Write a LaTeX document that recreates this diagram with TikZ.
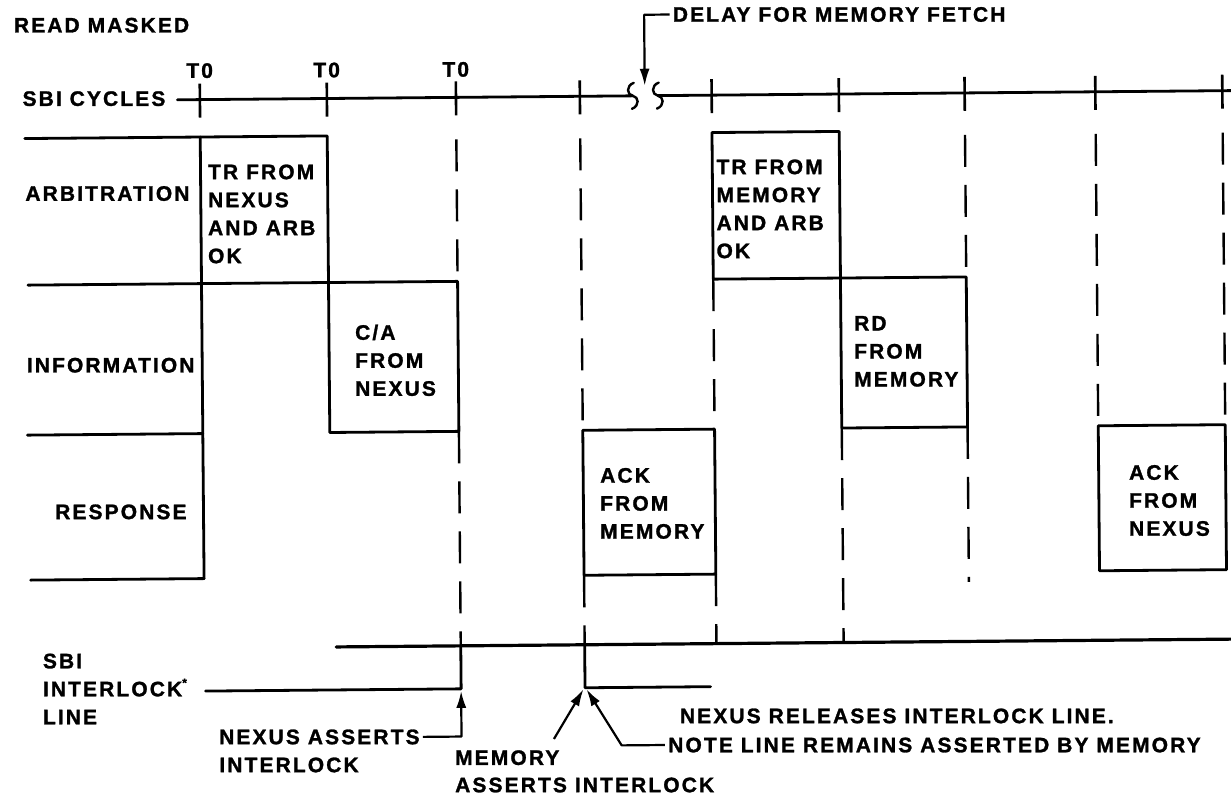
\documentclass[tikz,border=0pt]{standalone}
\usepackage{fontspec}
\setmainfont{Liberation Sans}[LetterSpace=10, BoldFeatures={FakeBold=1.3}]
\usetikzlibrary{arrows.meta}
\def\colA{202.5}
\def\colB{329.5}
\def\colC{458.6}
\def\colD{582.5}
\def\colE{714.3}
\def\colF{841.5}
\def\colG{967.3}
\def\colH{1098}
\def\colI{1225}
\def\rowA{133.4}
\def\rowB{280}
\def\rowC{430}
\def\rowD{575}
\def\ysbi{96}
\def\yil{644.5}
\def\yll{687.5}
\begin{document}
\begin{tikzpicture}[x=1pt,y=-1pt,
  txt/.style={font=\fontsize{21}{28}\selectfont\bfseries, inner sep=0pt, align=left, anchor=west},
  wave/.style={line width=2.8pt, line cap=round, line join=round},
  tickmark/.style={line width=2.6pt},
  dsh/.style={line width=2.4pt, dash pattern=on 32pt off 18pt},
  ilk/.style={line width=3.2pt, line cap=round},
  lead/.style={line width=2.2pt, line join=round},
  arr/.style={lead, -{Latex[length=17pt,width=10pt]}},
  brk/.style={line width=2.4pt, line cap=round}]
\fill[white] (0,0) rectangle (1231,797);
\useasboundingbox (0,0) rectangle (1231,797);
\begin{scope}[rotate around={0.5:(615,398)}]
% ---- headings
\node[txt] (title) at (17,20) {READ MASKED};
\node[txt,anchor=center] (tzA) at (\colA,67) {T0};
\node[txt,anchor=center] (tzB) at (\colB,67.5) {T0};
\node[txt,anchor=center] (tzC) at (\colC,68) {T0};
\node[txt] (sbic) at (25,93.5) {SBI CYCLES};
% ---- SBI cycles line with break
\coordinate (sbiL) at (180,\ysbi);
\coordinate (brkA) at (635.5,\ysbi);
\coordinate (brkB) at (660.5,\ysbi);
\coordinate (sbiR) at (1240,\ysbi);
\draw[wave] (sbiL) -- (brkA);
\draw[wave] (brkB) -- (sbiR);
\foreach \b in {brkA,brkB}
  \draw[brk] ([shift={(1,-13)}]\b) .. controls ([shift={(-7,-10)}]\b) and ([shift={(-6,-1)}]\b) .. (\b)
             .. controls ([shift={(6,1)}]\b) and ([shift={(7,10)}]\b) .. ([shift={(-1,13)}]\b);
\foreach \c in {\colA,\colB,\colC,\colD,\colE,\colF,\colG,\colH,\colI}
  \draw[tickmark] (\c,\ysbi-16) -- (\c,\ysbi+18);
% ---- delay annotation
\node[txt] (delay) at (676,15) {DELAY FOR MEMORY FETCH};
\coordinate (delaytip) at (647.5,86);
\draw[arr] ([xshift=-3pt]delay.west) -| (delaytip);
% ---- row labels
\node[txt] (arb) at (27,188.4) {ARBITRATION};
\node[txt] (info) at (27,360.1) {INFORMATION};
\node[txt] (resp) at (54,507) {RESPONSE};
% ---- waveforms, left part
\draw[wave] (27,\rowA) -- (\colB,\rowA) -- (\colB,\rowB);
\draw[wave] (\colA,\rowA) -- (\colA,\rowD);
\draw[wave] (29,\rowB) -- (\colC,\rowB) -- (\colC,\rowC) -- (\colB,\rowC) -- (\colB,\rowB);
\draw[wave] (27,\rowC) -- (\colA,\rowC);
\draw[wave] (29,\rowD) -- (\colA,\rowD);
% ---- boxes, right part
\draw[wave] (\colD,\rowC) rectangle (\colE,\rowD);
\draw[wave] (\colE,\rowA) rectangle (\colF,\rowB);
\draw[wave] (\colF,\rowB) rectangle (\colG,\rowC);
\draw[wave] (\colH,\rowC) rectangle (\colI,\rowD);
% ---- dashed cycle lines
\draw[dsh] (\colC,138) -- (\colC,\rowB);
\draw[dsh] (\colC,\rowC) -- (\colC,\yil);
\draw[dsh] (\colD,138) -- (\colD,\rowC);
\draw[dsh] (\colD,\rowD) -- (\colD,\yil);
\draw[dsh] (\colE,\rowB) -- (\colE,\rowC);
\draw[dsh] (\colE,\rowD) -- (\colE,\yil);
\draw[dsh] (\colF,\rowC) -- (\colF,\yil);
\draw[dsh] (\colG,138) -- (\colG,\rowB);
\draw[dsh] (\colG,\rowC) -- (\colG,585);
\draw[dsh] (\colH,138) -- (\colH,\rowC);
\draw[dsh] (\colI,138) -- (\colI,\rowC);
% ---- box texts
\node[txt] (trn) at (209.5,210.4) {TR FROM\\NEXUS\\AND ARB\\OK};
\node[txt] (can) at (355.3,358) {C/A\\FROM\\NEXUS};
\node[txt] (trm) at (718,209.8) {TR FROM\\MEMORY\\AND ARB\\OK};
\node[txt] (rdm) at (854.4,353.5) {RD\\FROM\\MEMORY};
\node[txt] (akm) at (599.1,503.3) {ACK\\FROM\\MEMORY};
\node[txt] (akn) at (1128,505) {ACK\\FROM\\NEXUS};
% ---- interlock line
\node[txt] (sbil) at (40.2,684) {SBI\\INTERLOCK\raisebox{0.45em}{\fontsize{12}{12}\selectfont*}\\LINE};
\draw[ilk] (334,\yil) -- (1240,\yil);
\draw[wave] (203,\yll) -- (\colC,\yll) -- (\colC,\yil);
\draw[wave] (\colD,\yil) -- (\colD,\yll) -- (708,\yll);
% ---- annotations
\node[txt] (nexas) at (216,733.5) {NEXUS ASSERTS};
\node[txt] (nexasb) at (216,761.5) {INTERLOCK};
\coordinate (nexTip) at (\colC,\yll+2);
\draw[arr] ([xshift=3pt]nexas.east) -| (nexTip);
\node[txt] (memas) at (451.8,756.3) {MEMORY};
\node[txt] (memasb) at (451.6,783.6) {ASSERTS INTERLOCK};
\coordinate (memTail) at (551,738.5);
\coordinate (memTip) at (\colD-1.5,\yll+1.5);
\draw[arr] (memTail) -- (memTip);
\node[txt] (nexrel) at (677,716.5) {NEXUS RELEASES INTERLOCK LINE.};
\node[txt] (note) at (665,745.5) {NOTE LINE REMAINS ASSERTED BY MEMORY};
\coordinate (relCorner) at (618.7,745.5);
\coordinate (relTip) at (\colD+1.5,\yll+1.5);
\draw[arr] ([xshift=-3pt]note.west) -- (relCorner) -- (relTip);
\end{scope}
\end{tikzpicture}
\end{document}
